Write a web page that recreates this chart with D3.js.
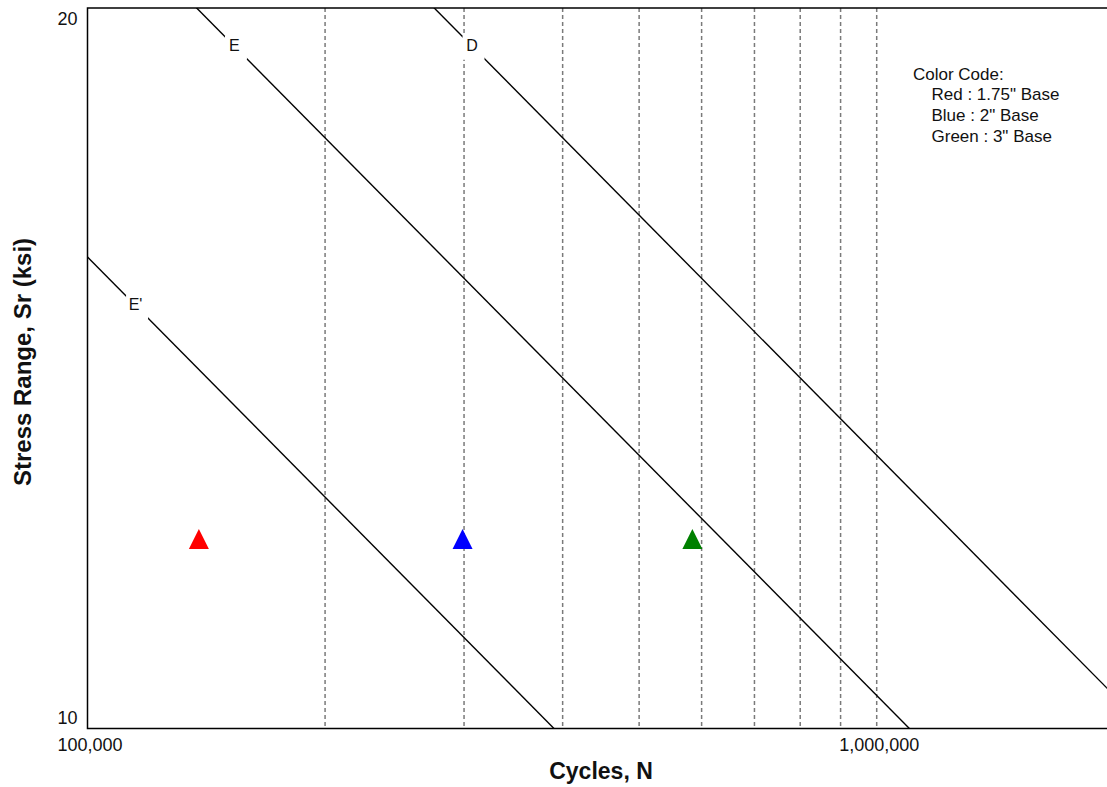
<!DOCTYPE html>
<html>
<head>
<meta charset="utf-8">
<script src="https://cdn.jsdelivr.net/npm/d3@7"></script>
<style>
  html, body { margin: 0; padding: 0; background: #fff; }
  svg { display: block; font-family: "Liberation Sans", Arial, sans-serif; }
</style>
</head>
<body>
<svg id="chart" width="1107" height="787"></svg>
<script>
// S-N fatigue curves, Sr = (A / N)^(1/3), constants in ksi^3
const categories = ["E'", "E", "D"];
const categoryA = [3.9e8, 11e8, 22e8];
const labelSr = [15.0, 19.25, 19.25];          // where each curve is labelled

// Vertical reference cycle counts
const gridCycles = [200000, 300000, 400000, 500000, 600000, 700000, 800000, 900000, 1000000];

// Tested specimens
const specimens = ["Red", "Blue", "Green"];
const specimenCycles = [138400, 298700, 584000];
const specimenStress = [12, 12, 12];
const specimenColors = ["#ff0000", "#0000ff", "#008000"];

// Axis ticks
const xTicks = [100000, 1000000];
const yTicks = [10, 20];

// Legend text
const legendTitle = "Color Code:";
const legendLines = ["Red : 1.75\" Base", "Blue : 2\" Base", "Green : 3\" Base"];

const svg = d3.select("#chart");
const plotLeft = 87.5, plotTop = 8, plotBottom = 728.5;
const decade = 789.2;

const x = d3.scaleLog().domain([1e5, 2e6]).range([plotLeft, plotLeft + decade * Math.log10(20)]);
const y = d3.scaleLog().domain([10, 20]).range([plotBottom, plotTop]);
const plotRight = x.range()[1];

svg.append("defs").append("clipPath").attr("id", "plot")
  .append("rect")
  .attr("x", plotLeft).attr("y", plotTop)
  .attr("width", plotRight - plotLeft).attr("height", plotBottom - plotTop);

// dashed cycle gridlines
svg.append("g").selectAll("line").data(gridCycles).join("line")
  .attr("x1", d => x(d)).attr("x2", d => x(d))
  .attr("y1", plotTop).attr("y2", plotBottom)
  .attr("stroke", "#7a7a7a").attr("stroke-width", 1.5)
  .attr("stroke-dasharray", "4,3");

// fatigue curves
const sr = (A, N) => Math.cbrt(A / N);
const curve = d3.line().x(d => x(d[0])).y(d => y(d[1]));
const curves = svg.append("g").attr("clip-path", "url(#plot)");
categories.forEach((c, i) => {
  const A = categoryA[i];
  const N0 = A / Math.pow(25, 3), N1 = A / Math.pow(8, 3);
  curves.append("path")
    .attr("d", curve([[N0, sr(A, N0)], [N1, sr(A, N1)]]))
    .attr("fill", "none").attr("stroke", "#000").attr("stroke-width", 1.4);
});

// curve labels sitting on white boxes that break the line
const labels = svg.append("g");
categories.forEach((c, i) => {
  const s = labelSr[i];
  const N = categoryA[i] / Math.pow(s, 3);
  const cx = x(N), cy = y(s);
  labels.append("rect")
    .attr("x", cx - 11).attr("y", cy - 12).attr("width", 22).attr("height", 24)
    .attr("fill", "#fff");
  labels.append("text")
    .attr("x", cx - 1.5).attr("y", cy + 3)
    .attr("text-anchor", "middle")
    .attr("font-size", 16).attr("fill", "#111")
    .text(c);
});

// plot frame
svg.append("path")
  .attr("d", `M${plotRight},${plotTop}H${plotLeft}V${plotBottom}H${plotRight}`)
  .attr("fill", "none").attr("stroke", "#000").attr("stroke-width", 1.5);

// specimen markers
const tri = (px, py) => `M${px - 10},${py + 10}L${px + 10},${py + 10}L${px},${py - 10}Z`;
svg.append("g").selectAll("path").data(specimens).join("path")
  .attr("d", (d, i) => tri(x(specimenCycles[i]), y(specimenStress[i])))
  .attr("fill", (d, i) => specimenColors[i]);

// axes
const gx = svg.append("g").attr("transform", `translate(0,${plotBottom})`)
  .call(d3.axisBottom(x).tickValues(xTicks).tickSize(0).tickPadding(0).tickFormat(d3.format(",")));
gx.attr("font-family", null).attr("font-size", null);
gx.select(".domain").remove();
gx.selectAll("text").attr("font-size", 18).attr("fill", "#111")
  .attr("dy", null).attr("y", 22).attr("dx", 2);

const gy = svg.append("g").attr("transform", `translate(${plotLeft},0)`)
  .call(d3.axisLeft(y).tickValues(yTicks).tickSize(0).tickPadding(0).tickFormat(d3.format("d")));
gy.attr("font-family", null).attr("font-size", null);
gy.select(".domain").remove();
gy.selectAll("text").attr("font-size", 18).attr("fill", "#111")
  .attr("x", -10).attr("dy", null)
  .attr("y", d => d === 20 ? 16 : -5);

// axis titles
svg.append("text")
  .attr("x", 601).attr("y", 779)
  .attr("text-anchor", "middle").attr("font-weight", "bold").attr("font-size", 23)
  .attr("fill", "#111")
  .text("Cycles, N");
svg.append("text")
  .attr("transform", "translate(31,362) rotate(-90)")
  .attr("text-anchor", "middle").attr("font-weight", "bold").attr("font-size", 24)
  .attr("fill", "#111")
  .text("Stress Range, Sr (ksi)");

// legend
const lg = svg.append("g").attr("font-size", 17).attr("fill", "#111");
lg.append("text").attr("x", 913).attr("y", 79.5).text(legendTitle);
lg.selectAll("text.item").data(legendLines).join("text").attr("class", "item")
  .attr("x", 931.5).attr("y", (d, i) => 100.2 + i * 20.7)
  .text(d => d);
</script>
</body>
</html>
